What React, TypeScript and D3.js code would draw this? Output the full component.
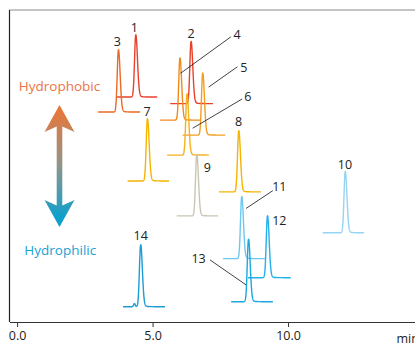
import { useEffect, useRef } from "react";
import * as d3 from "d3";

// peak number, retention time (min), baseline offset, peak height, trace window
const peakIds = [1, 2, 3, 4, 5, 6, 7, 8, 9, 10, 11, 12, 13, 14];
const retention = [4.38, 6.42, 3.74, 6.01, 6.85, 6.27, 4.81, 8.18, 6.63, 12.11, 8.29, 9.24, 8.54, 4.56];
const offsets = [72.1, 70.0, 67.3, 64.7, 59.9, 53.5, 45.2, 41.7, 34.0, 28.6, 20.3, 14.2, 6.5, 4.9];
const heights = [19.9, 19.9, 19.9, 19.9, 19.9, 19.6, 19.9, 19.6, 19.6, 19.6, 19.9, 19.8, 20.0, 19.8];
const winStart = [3.69, 5.65, 2.99, 5.28, 6.11, 5.54, 4.08, 7.45, 5.89, 11.28, 7.6, 8.52, 7.9, 3.91];
const winEnd = [5.17, 7.23, 4.54, 6.79, 7.68, 7.08, 5.61, 9.0, 7.42, 12.8, 9.15, 10.1, 9.44, 5.46];
const colors = [
  "#e8412c", "#e8412c", "#ec6a24", "#f08a1c", "#f29f20", "#f6b21c", "#f5b400",
  "#f5b400", "#c9c6b3", "#95d4f2", "#6cc8f0", "#22b1e8", "#1ba8e0", "#1e9cd6",
];
// minor shoulder in peak 14
const shoulders = [{ peak: 14, t: 4.33, h: 1.0 }];

// label positions (time, level)
const labelT = [4.33, 6.42, 3.70, 8.12, 8.37, 8.52, 4.80, 8.17, 7.02, 12.10, 9.68, 9.68, 6.70, 4.56];
const labelY = [93.1, 91.0, 88.5, 90.7, 80.2, 70.9, 66.1, 62.8, 48.2, 48.9, 42.0, 31.1, 18.8, 26.3];

// leader lines [peak, t0, y0, t1, y1]
const leaders = [
  [4, 6.03, 79.7, 7.89, 91.4],
  [5, 7.07, 75.3, 8.13, 81.8],
  [6, 6.48, 62.1, 8.31, 71.5],
  [11, 8.45, 36.4, 9.44, 42.1],
  [13, 7.12, 19.9, 8.45, 11.9],
];

const xTicks = [0, 5, 10];
const font = "'Open Sans', 'Noto Sans', sans-serif";

const W = 415;
const H = 343;

function peakShape(t: number, rt: number, h: number) {
  const d = t - rt;
  const s = d < 0 ? 0.045 : 0.062;
  let v = h * Math.exp(-(d * d) / (2 * s * s));
  if (d > 0) v += h * 0.035 * Math.exp(-d / 0.12) * (1 - Math.exp(-d / 0.03));
  return v;
}

export default function App() {
  const ref = useRef<SVGSVGElement>(null);

  useEffect(() => {
    const svg = d3.select(ref.current);
    svg.selectAll("*").remove();

    const x = d3.scaleLinear().domain([-0.28, 14.7]).range([9.5, 415.4]);
    const y = d3.scaleLinear().domain([0, 100]).range([322, 10]);

    // frame
    svg.append("line").attr("x1", x(-0.28)).attr("x2", W).attr("y1", 10).attr("y2", 10)
      .attr("stroke", "#8a8a8a").attr("stroke-width", 1.2);
    svg.append("line").attr("x1", x(-0.28)).attr("x2", x(-0.28)).attr("y1", 10).attr("y2", y(0))
      .attr("stroke", "#222").attr("stroke-width", 1.2);

    const axis = d3.axisBottom(x).tickValues(xTicks).tickFormat(d3.format(".1f")).tickSize(5).tickSizeOuter(0);
    const ax = svg.append("g").attr("transform", `translate(0,${y(0)})`).call(axis);
    ax.select(".domain").attr("stroke", "#333").attr("stroke-width", 1.2);
    ax.selectAll(".tick line").attr("stroke", "#333");
    ax.selectAll(".tick text").attr("font-family", font).attr("font-size", 12.5).attr("fill", "#222")
      .attr("y", 18).attr("dy", null);
    svg.append("text").attr("x", 396.5).attr("y", 343).attr("font-family", font).attr("font-size", 12.5)
      .attr("fill", "#222").text("min");

    // arrow with gradient
    const defs = svg.append("defs");
    const grad = defs.append("linearGradient").attr("id", "hgrad").attr("gradientUnits", "userSpaceOnUse")
      .attr("x1", 0).attr("x2", 0).attr("y1", 105).attr("y2", 227);
    grad.append("stop").attr("offset", 0.05).attr("stop-color", "#e8773a");
    grad.append("stop").attr("offset", 0.5).attr("stop-color", "#8e958c");
    grad.append("stop").attr("offset", 0.92).attr("stop-color", "#0fa0cc");
    const cx = 59.5;
    svg.append("path")
      .attr("d", `M${cx},105 L${cx + 15},132 L${cx + 2.8},126.5 L${cx + 2.8},205.5 L${cx + 15},200 L${cx},227 L${cx - 15},200 L${cx - 2.8},205.5 L${cx - 2.8},126.5 L${cx - 15},132 Z`)
      .attr("fill", "url(#hgrad)");

    svg.append("text").attr("x", cx).attr("y", 91).attr("text-anchor", "middle").attr("font-family", font)
      .attr("font-size", 13.5).attr("fill", "#ed7445").text("Hydrophobic");
    svg.append("text").attr("x", cx + 0.8).attr("y", 255).attr("text-anchor", "middle").attr("font-family", font)
      .attr("font-size", 13.5).attr("fill", "#1a9fd6").text("Hydrophilic");

    // traces
    const line = d3.line<[number, number]>().x((d) => x(d[0])).y((d) => y(d[1]));
    peakIds.forEach((id, i) => {
      const pts: [number, number][] = [];
      const sh = shoulders.find((s) => s.peak === id);
      for (let t = winStart[i]; t <= winEnd[i] + 1e-9; t += 0.005) {
        let v = peakShape(t, retention[i], heights[i]);
        if (sh) v += sh.h * Math.exp(-((t - sh.t) ** 2) / (2 * 0.03 * 0.03));
        pts.push([t, offsets[i] + v]);
      }
      svg.append("path").attr("d", line(pts)).attr("fill", "none").attr("stroke", colors[i])
        .attr("stroke-width", 1.4).attr("stroke-linejoin", "round");
    });

    // leaders
    leaders.forEach(([, t0, y0, t1, y1]) => {
      svg.append("line").attr("x1", x(t0)).attr("y1", y(y0)).attr("x2", x(t1)).attr("y2", y(y1))
        .attr("stroke", "#111").attr("stroke-width", 0.8);
    });

    // labels
    peakIds.forEach((id, i) => {
      svg.append("text").attr("x", x(labelT[i])).attr("y", y(labelY[i])).attr("text-anchor", "middle")
        .attr("font-family", font).attr("font-size", 12.5).attr("fill", "#222").text(String(id));
    });
  }, []);

  return (
    <svg ref={ref} width={W} height={H} style={{ position: "absolute", left: 0, top: 0, background: "#fff" }} />
  );
}
